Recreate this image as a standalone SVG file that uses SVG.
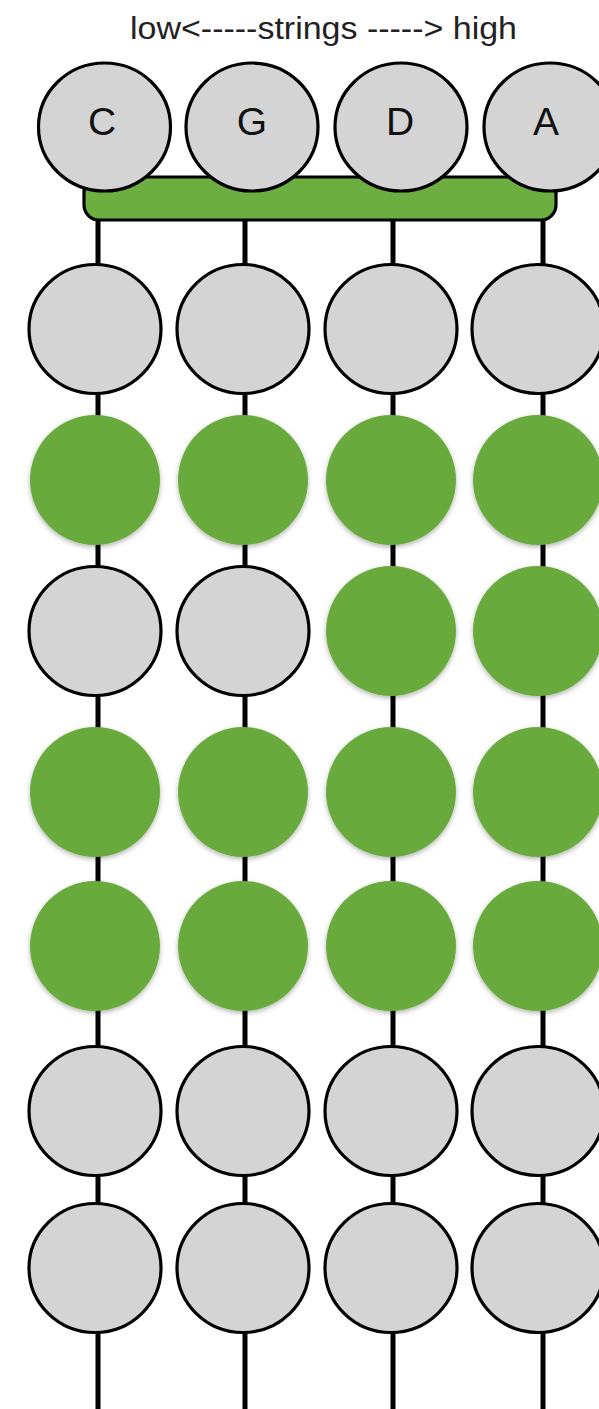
<svg xmlns="http://www.w3.org/2000/svg" width="599" height="1409" viewBox="0 0 599 1409">
<style>
.str{stroke:#000;stroke-width:5;fill:none}
.off{fill:#d4d4d4;stroke:#000;stroke-width:3.2}
.on{fill:#6cae40;filter:url(#sh)}
.lbl{font-family:"Liberation Sans",Arial,sans-serif;font-size:39px;fill:#111;text-anchor:middle}
.title{font-family:"Liberation Sans",Arial,sans-serif;font-size:32px;fill:#222}
</style>
<defs>
<filter id="sh" x="-20%" y="-20%" width="140%" height="140%">
<feTurbulence type="fractalNoise" baseFrequency="0.9" numOctaves="2" seed="3" result="n"/>
<feColorMatrix in="n" type="matrix" values="0 0 0 0 0  0 0 0 0 0  0 0 0 0 0  0 0 0 0.09 0" result="nz"/>
<feComposite in="nz" in2="SourceGraphic" operator="in" result="tex"/>
<feGaussianBlur in="SourceAlpha" stdDeviation="2.5" result="b"/>
<feOffset in="b" dx="0" dy="2" result="o"/>
<feFlood flood-color="#000" flood-opacity="0.3"/>
<feComposite in2="o" operator="in" result="s"/>
<feMerge><feMergeNode in="s"/><feMergeNode in="SourceGraphic"/><feMergeNode in="tex"/></feMerge>
</filter>
</defs>
<rect width="599" height="1409" fill="#fff"/>
<text class="title" x="130" y="39" textLength="387" lengthAdjust="spacingAndGlyphs">low&lt;-----strings -----&gt; high</text>
<g id="connectors">
<line class="str" x1="98" y1="215" x2="98" y2="1409"/>
<line class="str" x1="245" y1="215" x2="245" y2="1409"/>
<line class="str" x1="393" y1="215" x2="393" y2="1409"/>
<line class="str" x1="543" y1="215" x2="543" y2="1409"/>
</g>
<g id="nut"><rect x="84" y="177" width="472" height="43" rx="15" ry="15" fill="#6cae40" stroke="#000" stroke-width="3.2"/></g>
<g id="tune-C"><ellipse class="off" cx="104.5" cy="127" rx="66" ry="64"/><text class="lbl" x="102" y="135">C</text></g>
<g id="tune-G"><ellipse class="off" cx="252" cy="127" rx="66" ry="64"/><text class="lbl" x="252" y="135">G</text></g>
<g id="tune-D"><ellipse class="off" cx="401" cy="127" rx="66" ry="64"/><text class="lbl" x="400" y="135">D</text></g>
<g id="tune-A"><ellipse class="off" cx="550" cy="127" rx="66" ry="64"/><text class="lbl" x="546" y="135">A</text></g>
<g id="row1">
<ellipse class="off" cx="95" cy="329" rx="66" ry="64.5"/><ellipse class="off" cx="243" cy="329" rx="66" ry="64.5"/><ellipse class="off" cx="391" cy="329" rx="66" ry="64.5"/><ellipse class="off" cx="538" cy="329" rx="66" ry="64.5"/>
</g>
<g id="row2">
<ellipse class="on" cx="95" cy="480" rx="65" ry="65"/><ellipse class="on" cx="243" cy="480" rx="65" ry="65"/><ellipse class="on" cx="391" cy="480" rx="65" ry="65"/><ellipse class="on" cx="538" cy="480" rx="65" ry="65"/>
</g>
<g id="row3">
<ellipse class="off" cx="95" cy="631" rx="66" ry="64.5"/><ellipse class="off" cx="243" cy="631" rx="66" ry="64.5"/><ellipse class="on" cx="391" cy="631" rx="65" ry="65"/><ellipse class="on" cx="538" cy="631" rx="65" ry="65"/>
</g>
<g id="row4">
<ellipse class="on" cx="95" cy="792" rx="65" ry="65"/><ellipse class="on" cx="243" cy="792" rx="65" ry="65"/><ellipse class="on" cx="391" cy="792" rx="65" ry="65"/><ellipse class="on" cx="538" cy="792" rx="65" ry="65"/>
</g>
<g id="row5">
<ellipse class="on" cx="95" cy="946" rx="65" ry="65"/><ellipse class="on" cx="243" cy="946" rx="65" ry="65"/><ellipse class="on" cx="391" cy="946" rx="65" ry="65"/><ellipse class="on" cx="538" cy="946" rx="65" ry="65"/>
</g>
<g id="row6">
<ellipse class="off" cx="95" cy="1111" rx="66" ry="64.5"/><ellipse class="off" cx="243" cy="1111" rx="66" ry="64.5"/><ellipse class="off" cx="391" cy="1111" rx="66" ry="64.5"/><ellipse class="off" cx="538" cy="1111" rx="66" ry="64.5"/>
</g>
<g id="row7">
<ellipse class="off" cx="95" cy="1268" rx="66" ry="64.5"/><ellipse class="off" cx="243" cy="1268" rx="66" ry="64.5"/><ellipse class="off" cx="391" cy="1268" rx="66" ry="64.5"/><ellipse class="off" cx="538" cy="1268" rx="66" ry="64.5"/>
</g>
</svg>
